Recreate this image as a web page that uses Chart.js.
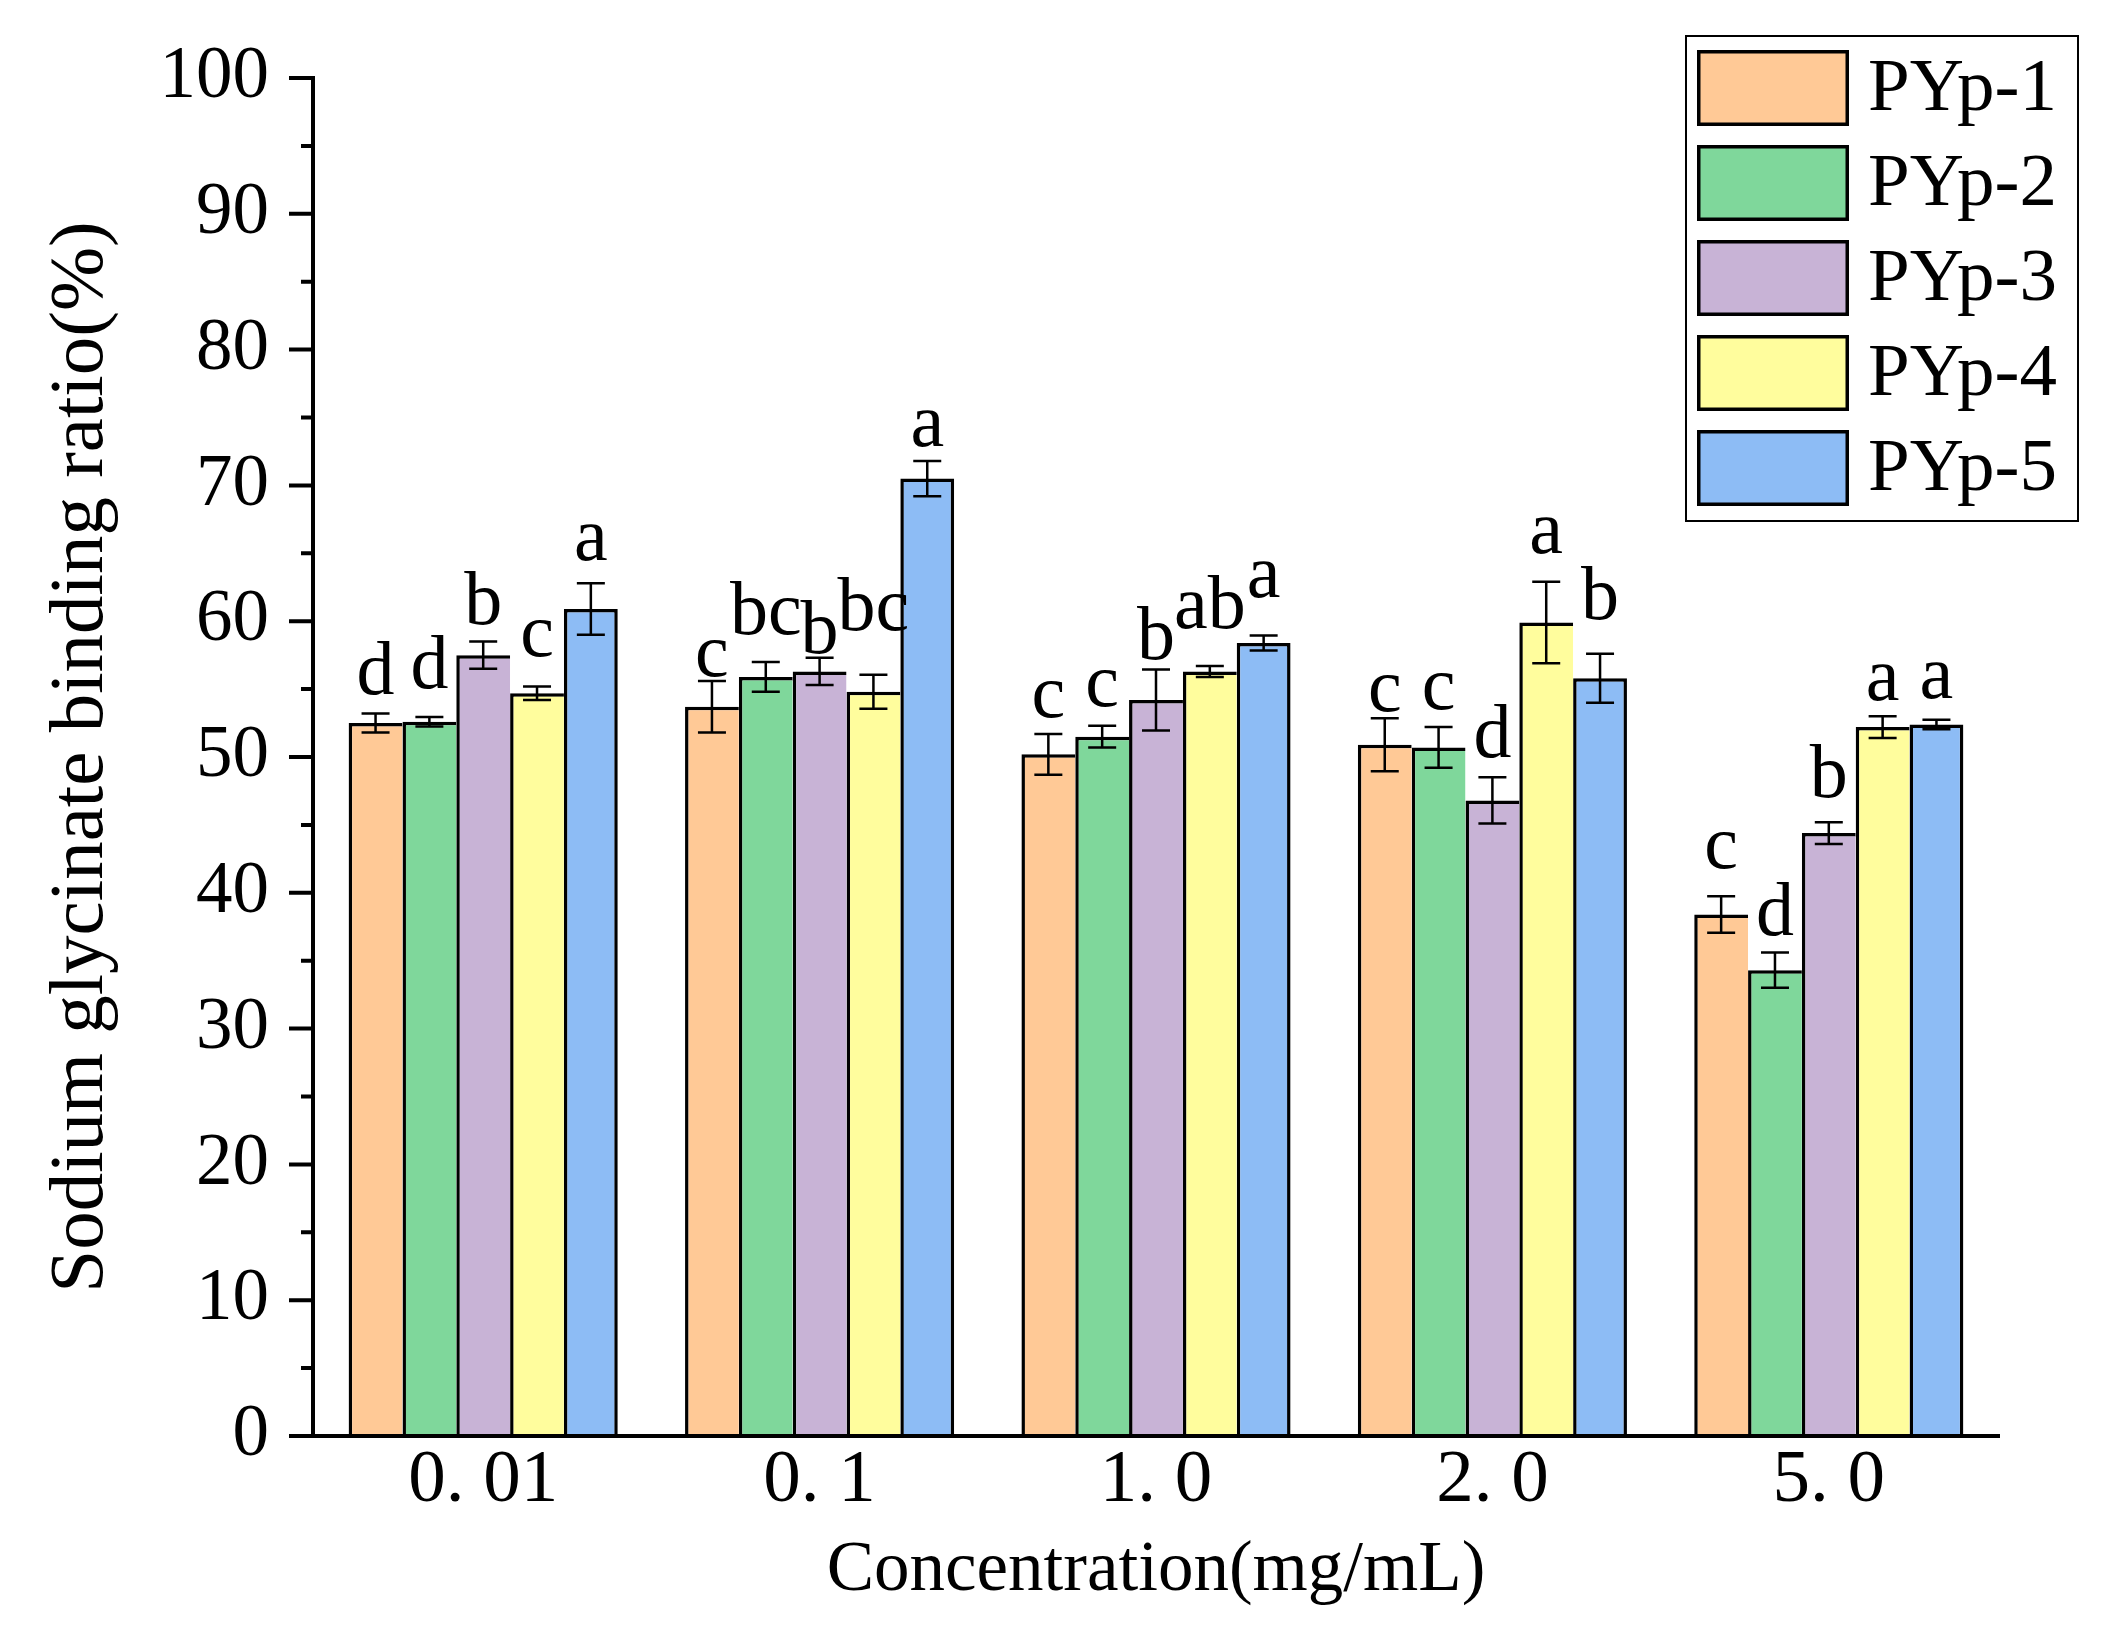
<!DOCTYPE html>
<html lang="en">
<head>
  <meta charset="UTF-8" />
  <title>Sodium glycinate binding ratio</title>
  <script src="https://cdn.jsdelivr.net/npm/chart.js"></script>
  <style>
    body {
      margin: 0;
      padding: 0;
      background-color: #ffffff;
    }
    #wrap {
      width: 2110px;
      height: 1648px;
    }
  </style>
</head>
<body>
  <div id="wrap">
    <canvas id="bindingChart" width="2110" height="1648"></canvas>
  </div>

  <script>
    // concentration groups on the x axis
    const categories = ['0. 01', '0. 1', '1. 0', '2. 0', '5. 0'];
    const seriesNames = ['PYp-1', 'PYp-2', 'PYp-3', 'PYp-4', 'PYp-5'];

    // binding ratio (%) per sample
    const pyp1 = [52.5, 53.7, 50.2, 50.9, 38.4];
    const pyp2 = [52.6, 55.9, 51.5, 50.7, 34.3];
    const pyp3 = [57.5, 56.3, 54.2, 46.8, 44.4];
    const pyp4 = [54.7, 54.8, 56.3, 59.9, 52.2];
    const pyp5 = [60.9, 70.5, 58.4, 55.8, 52.4];

    // standard deviations
    const err1 = [0.7, 1.9, 1.5, 1.95, 1.35];
    const err2 = [0.35, 1.1, 0.8, 1.5, 1.3];
    const err3 = [1.0, 1.0, 2.25, 1.7, 0.8];
    const err4 = [0.5, 1.25, 0.4, 3.0, 0.8];
    const err5 = [1.9, 1.3, 0.55, 1.8, 0.35];

    // significance letters
    const sig1 = ['d', 'c', 'c', 'c', 'c'];
    const sig2 = ['d', 'bc', 'c', 'c', 'd'];
    const sig3 = ['b', 'b', 'b', 'd', 'b'];
    const sig4 = ['c', 'bc', 'ab', 'a', 'a'];
    const sig5 = ['a', 'a', 'a', 'b', 'a'];

    const yTicks = [0, 10, 20, 30, 40, 50, 60, 70, 80, 90, 100];

    const values = [pyp1, pyp2, pyp3, pyp4, pyp5];
    const errors = [err1, err2, err3, err4, err5];
    const letters = [sig1, sig2, sig3, sig4, sig5];
    // gap (px) between the error cap and the letter baseline
    const letterLift = [
      [20, 5, 17, 7, 28],
      [29, 28, 20, 18, 18],
      [18, 5, 10, 20, 25],
      [30, 45, 38, 29, 16],
      [23, 15, 38, 35, 22]
    ];
    const colors = ['#FFC996', '#7FD79B', '#C8B3D6', '#FFFD9D', '#8DBCF5'];
    const serif = '"Liberation Serif", "Times New Roman", serif';

    const decor = {
      id: 'decor',
      afterDatasetsDraw(chart) {
        const { ctx, chartArea: a, scales: { y } } = chart;
        ctx.save();
        ctx.strokeStyle = '#000';
        ctx.fillStyle = '#000';

        // error bars + letters
        chart.data.datasets.forEach((ds, i) => {
          chart.getDatasetMeta(i).data.forEach((bar, j) => {
            const v = ds.data[j], e = errors[i][j];
            const yt = y.getPixelForValue(v + e);
            const yb = y.getPixelForValue(v - e);
            ctx.lineWidth = 2.5;
            ctx.beginPath();
            ctx.moveTo(bar.x, yt); ctx.lineTo(bar.x, yb);
            ctx.moveTo(bar.x - 14, yt); ctx.lineTo(bar.x + 14, yt);
            ctx.moveTo(bar.x - 14, yb); ctx.lineTo(bar.x + 14, yb);
            ctx.stroke();

            ctx.font = '76px ' + serif;
            ctx.textAlign = 'center';
            ctx.textBaseline = 'alphabetic';
            ctx.fillText(letters[i][j], bar.x, yt - letterLift[i][j]);
          });
        });

        // axes
        const ax = a.left - 2;
        ctx.lineWidth = 4;
        ctx.beginPath();
        ctx.moveTo(ax, y.getPixelForValue(100) - 2);
        ctx.lineTo(ax, a.bottom + 2);
        ctx.moveTo(ax, a.bottom);
        ctx.lineTo(a.right + 3, a.bottom);
        for (let v = 0; v <= 100; v += 5) {
          const py = y.getPixelForValue(v);
          const len = v % 10 === 0 ? 24 : 12;
          ctx.moveTo(ax - len, py);
          ctx.lineTo(ax, py);
        }
        ctx.stroke();
        ctx.restore();
      },
      afterDraw(chart) {
        const { ctx } = chart;
        ctx.save();
        ctx.lineWidth = 2;
        ctx.strokeStyle = '#000';
        ctx.strokeRect(1686, 36, 392, 485);
        chart.data.datasets.forEach((ds, i) => {
          const top = 50 + i * 95;
          ctx.fillStyle = ds.backgroundColor;
          ctx.fillRect(1697, top, 152, 76);
          ctx.lineWidth = 3.5;
          ctx.strokeRect(1698.75, top + 1.75, 148.5, 72.5);
          ctx.fillStyle = '#000';
          ctx.font = '75px ' + serif;
          ctx.textAlign = 'left';
          ctx.textBaseline = 'middle';
          ctx.fillText(ds.label, 1868, top + 40);
        });
        ctx.restore();
      }
    };

    const ctx = document.getElementById('bindingChart').getContext('2d');
    new Chart(ctx, {
      type: 'bar',
      data: {
        labels: categories,
        datasets: values.map((vals, i) => ({
          label: seriesNames[i],
          data: vals,
          backgroundColor: colors[i],
          borderColor: '#000000',
          // neighbouring bars share one divider; only the last bar closes the group
          borderWidth: { top: 3.5, left: 3.5, right: i === values.length - 1 ? 3.5 : 0, bottom: 0 },
          borderSkipped: 'bottom',
          inflateAmount: 0,
          categoryPercentage: 0.8,
          barPercentage: 1.0
        }))
      },
      options: {
        responsive: false,
        devicePixelRatio: 1,
        animation: false,
        layout: { padding: { left: 0, top: 78, right: 113, bottom: 0 } },
        plugins: {
          legend: { display: false },
          tooltip: { enabled: false }
        },
        scales: {
          x: {
            grid: { display: false, drawTicks: false },
            border: { display: false },
            ticks: {
              color: '#000',
              font: { family: serif, size: 75, lineHeight: 1.2 },
              padding: 0,
              maxRotation: 0,
              autoSkip: false
            },
            title: {
              display: true,
              text: 'Concentration(mg/mL)',
              color: '#000',
              font: { family: serif, size: 71 },
              padding: { top: 0, bottom: 34 }
            },
            afterFit(scale) { scale.height = 212; }
          },
          y: {
            min: 0,
            max: 100,
            grid: { display: false, drawTicks: false },
            border: { display: false },
            afterBuildTicks(scale) { scale.ticks = yTicks.map(v => ({ value: v })); },
            ticks: {
              color: '#000',
              font: { family: serif, size: 73, lineHeight: 0.8 },
              padding: 46
            },
            title: {
              display: true,
              text: 'Sodium glycinate binding ratio(%)',
              color: '#000',
              font: { family: serif, size: 77 },
              padding: { top: 36, bottom: 0 }
            },
            afterFit(scale) { scale.width = 315; }
          }
        }
      },
      plugins: [decor]
    });
  </script>
</body>
</html>
